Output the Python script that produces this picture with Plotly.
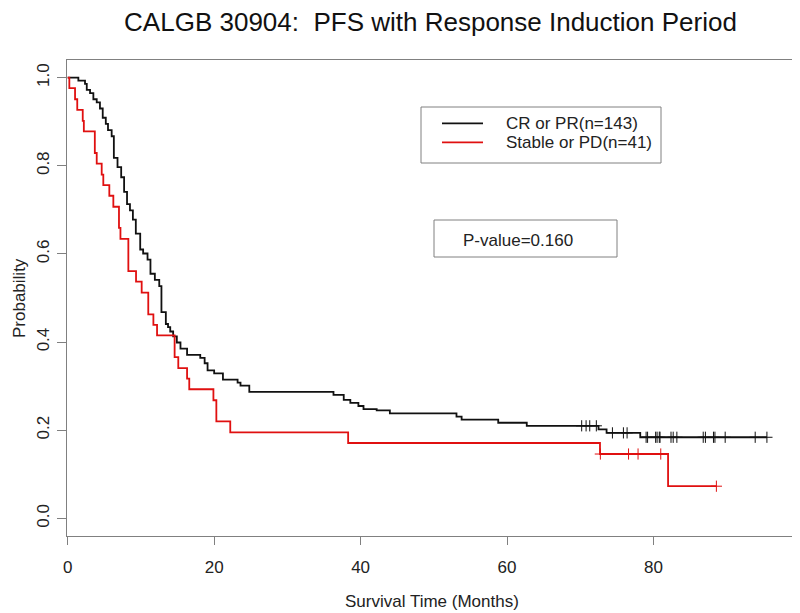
import numpy as np
import plotly.graph_objects as go

title_text = "CALGB 30904:\u00a0 PFS with Response Induction Period"
x_title = "Survival Time (Months)"
y_title = "Probability"
group_names = ["CR or PR(n=143)", "Stable or PD(n=41)"]
pvalue_text = "P-value=0.160"

x_ticks = [0, 20, 40, 60, 80]
y_ticks = [0.0, 0.2, 0.4, 0.6, 0.8, 1.0]

# Kaplan-Meier steps: CR or PR
cr_times = [0, 1.45, 2.36, 2.6, 3.05, 3.5, 3.96, 4.4, 4.78, 5.2, 5.5, 6.0, 6.3, 6.8,
            7.3, 7.7, 8.1, 8.5, 8.9, 9.3, 9.9, 10.3, 10.9, 11.3, 11.9, 12.5, 12.8,
            13.4, 13.7, 14.0, 14.4, 14.9, 15.4, 16.3, 18.1, 18.7, 19.1, 20.0, 21.2,
            23.2, 23.6, 24.8, 36.3, 37.7, 38.6, 39.7, 40.4, 42.2, 44.0, 53.1, 53.8,
            58.8, 62.7, 72.5, 73.6, 78.2]
cr_surv = [1.0, 0.993, 0.986, 0.972, 0.965, 0.951, 0.944, 0.930, 0.909, 0.895, 0.881,
           0.867, 0.818, 0.797, 0.774, 0.741, 0.713, 0.699, 0.678, 0.646, 0.610,
           0.601, 0.587, 0.555, 0.541, 0.527, 0.468, 0.441, 0.434, 0.424, 0.413,
           0.399, 0.385, 0.371, 0.364, 0.352, 0.336, 0.329, 0.315, 0.308, 0.301,
           0.287, 0.280, 0.269, 0.262, 0.255, 0.248, 0.245, 0.238, 0.231, 0.224,
           0.217, 0.210, 0.202, 0.194, 0.184]
cr_censor_times = [70.2, 70.8, 71.3, 72.2, 74.4, 75.9, 76.4, 79.0, 79.2, 80.3, 80.5,
                   80.8, 80.9, 82.4, 82.7, 83.2, 86.8, 87.1, 88.2, 88.4, 89.8, 93.9, 95.5]

# Kaplan-Meier steps: Stable or PD
sd_times = [0, 0.22, 1.0, 1.3, 2.05, 2.2, 3.7, 3.96, 4.64, 4.86, 5.68, 6.23, 7.0, 7.2,
            8.28, 9.33, 10.1, 11.0, 11.7, 12.2, 14.6, 15.1, 16.3, 16.6, 19.9, 20.3,
            22.2, 38.3, 72.7, 82.0]
sd_surv = [1.0, 0.976, 0.951, 0.927, 0.902, 0.878, 0.829, 0.805, 0.780, 0.756, 0.732,
           0.707, 0.659, 0.634, 0.561, 0.537, 0.512, 0.463, 0.439, 0.415, 0.366,
           0.341, 0.317, 0.293, 0.268, 0.220, 0.195, 0.171, 0.146, 0.073]
sd_censor_times = [72.75, 76.6, 77.9, 81.0, 88.6]

colors = ["#111111", "#e01010"]
axis_gray = "#808080"
FONT = "Liberation Sans, Arial, Helvetica, sans-serif"


def step_value(times, surv, t):
    idx = np.searchsorted(np.array(times), np.array(t), side="right") - 1
    return list(np.array(surv)[idx])


fig = go.Figure()
groups = [(cr_times, cr_surv, cr_censor_times), (sd_times, sd_surv, sd_censor_times)]
for (times, surv, cens), name, col in zip(groups, group_names, colors):
    end_t = max(cens)
    xs = list(times) + [end_t]
    ys = list(surv) + [surv[-1]]
    fig.add_trace(go.Scatter(x=xs, y=ys, mode="lines", line=dict(color=col, width=1.8, shape="hv"),
                             name=name, showlegend=False, hoverinfo="skip"))
    fig.add_trace(go.Scatter(x=cens, y=step_value(times, surv, cens), mode="markers",
                             marker=dict(symbol="cross-thin", size=8, line=dict(color=col, width=1)),
                             name=name + " censored", showlegend=False, hoverinfo="skip"))

# page offset of the figure inside the html body (default 8px body margin)
OFF = 8
W, H = 800 - OFF, 613 - OFF
L, T = 67 - OFF, 60 - OFF
R = 6
B = 613 - 536
pw, ph = W - L - R, H - T - B


def px(xp):  # page pixel x -> paper
    return (xp - OFF - L) / pw


def py(yp):  # page pixel y -> paper
    return (H - B - (yp - OFF)) / ph


shapes = []
annotations = []
# legend box
shapes.append(dict(type="rect", xref="paper", yref="paper", x0=px(421), x1=px(661), y0=py(163), y1=py(107),
                   line=dict(color=axis_gray, width=1), fillcolor="white"))
for i, (name, col) in enumerate(zip(group_names, colors)):
    yy = [123.3, 142.3][i]
    shapes.append(dict(type="line", xref="paper", yref="paper", x0=px(442), x1=px(483), y0=py(yy), y1=py(yy),
                       line=dict(color=col, width=1.8)))
    annotations.append(dict(text=name, xref="paper", yref="paper", x=px(504), y=py(yy), xanchor="left",
                            yanchor="middle", showarrow=False, font=dict(size=17, color="#222", family=FONT)))
# p-value box
shapes.append(dict(type="rect", xref="paper", yref="paper", x0=px(434), x1=px(617), y0=py(257), y1=py(220),
                   line=dict(color=axis_gray, width=1), fillcolor="white"))
annotations.append(dict(text=pvalue_text, xref="paper", yref="paper", x=px(461), y=py(240), xanchor="left",
                        yanchor="middle", showarrow=False, font=dict(size=17, color="#222", family=FONT)))
# axis titles
annotations.append(dict(text=x_title, xref="paper", yref="paper", x=px(432), y=py(601), xanchor="center",
                        yanchor="middle", showarrow=False, font=dict(size=17, color="#222", family=FONT)))
annotations.append(dict(text=y_title, xref="paper", yref="paper", x=px(19), y=0.5, xanchor="center",
                        yanchor="middle", textangle=-90, showarrow=False,
                        font=dict(size=17, color="#222", family=FONT)))

fig.update_layout(
    width=W, height=H,
    margin=dict(l=L, r=R, t=T, b=B, autoexpand=False),
    paper_bgcolor="white", plot_bgcolor="white",
    title=dict(text=title_text, x=(L + pw / 2) / W, xanchor="center", y=1 - (22 - OFF) / H, yanchor="middle",
               font=dict(size=26, color="#111", family=FONT)),
    shapes=shapes, annotations=annotations, showlegend=False,
)
fig.update_xaxes(range=[-0.1, 99.2], tickvals=x_ticks, ticktext=[str(v) for v in x_ticks],
                 showgrid=False, zeroline=False, showline=True, mirror=True, linecolor=axis_gray, linewidth=1,
                 ticks="outside", ticklen=8, tickcolor=axis_gray, tickwidth=1, ticklabelstandoff=8,
                 tickfont=dict(size=17, color="#222", family=FONT))
fig.update_yaxes(range=[-0.04, 1.04], tickvals=y_ticks, ticktext=["%.1f" % v for v in y_ticks],
                 showgrid=False, zeroline=False, showline=True, mirror=True, linecolor=axis_gray, linewidth=1,
                 ticks="outside", ticklen=9, tickcolor=axis_gray, tickwidth=1, tickangle=-90,
                 ticklabelstandoff=1, tickfont=dict(size=17, color="#222", family=FONT))

fig.write_html("out.html")
